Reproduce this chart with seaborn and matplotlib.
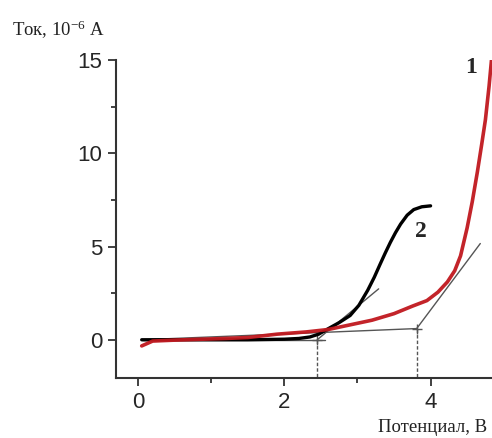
import matplotlib
matplotlib.use("Agg")
import matplotlib.pyplot as plt
import seaborn as sns
import pandas as pd
from matplotlib.ticker import MultipleLocator

# Curve 1 (red)
x1 = [0.05, 0.2, 0.5, 0.8, 1.2, 1.5, 1.9, 2.3, 2.6, 2.9, 3.2, 3.5, 3.75, 3.95,
      4.1, 4.23, 4.33, 4.41, 4.50, 4.57, 4.64, 4.70, 4.75, 4.80, 4.84]
y1 = [-0.33, -0.07, -0.02, 0.02, 0.07, 0.12, 0.3, 0.42, 0.55, 0.8, 1.05, 1.4, 1.8, 2.1,
      2.55, 3.1, 3.7, 4.5, 6.0, 7.4, 9.0, 10.5, 11.8, 13.6, 15.3]
# Curve 2 (black)
x2 = [0.05, 0.5, 1.0, 1.5, 2.0, 2.2, 2.35, 2.47, 2.59, 2.75, 2.9, 3.02, 3.14, 3.23,
      3.31, 3.38, 3.45, 3.52, 3.59, 3.68, 3.77, 3.88, 4.0]
y2 = [0.0, 0.0, 0.0, 0.0, 0.03, 0.07, 0.15, 0.3, 0.57, 0.92, 1.3, 1.85, 2.65, 3.35,
      4.05, 4.65, 5.22, 5.74, 6.2, 6.68, 6.98, 7.13, 7.18]

# Tangent constructions
tan2_base_x = [0.05, 2.56]
tan2_base_y = [0.0, 0.0]
tan2_steep_x = [2.45, 3.29]
tan2_steep_y = [0.0, 2.73]
tan1_base_x = [0.05, 3.81]
tan1_base_y = [0.0, 0.6]
tan1_steep_x = [3.81, 4.68]
tan1_steep_y = [0.6, 5.16]
onset_x = [2.45, 3.81]
onset_y = [0.0, 0.6]

xticks = [0, 2, 4]
yticks = [0, 5, 10, 15]

sns.set_style("ticks")
plt.rcParams['mathtext.fontset'] = 'custom'
plt.rcParams['mathtext.rm'] = 'Liberation Serif'
plt.rcParams['mathtext.it'] = 'Liberation Serif'

fig = plt.figure(figsize=(4.92, 4.38), dpi=100)
ax = fig.add_axes([0.236, 0.137, 0.764, 0.726])

gray = '#555555'
ax.plot(tan2_base_x, tan2_base_y, color=gray, lw=1.0)
ax.plot(tan2_steep_x, tan2_steep_y, color=gray, lw=1.0)
ax.plot(tan1_base_x, tan1_base_y, color=gray, lw=1.0)
ax.plot(tan1_steep_x, tan1_steep_y, color=gray, lw=1.0)

ylo = -2.05
for ox, oy in zip(onset_x, onset_y):
    ax.plot([ox, ox], [oy, ylo], color=gray, lw=1.0, ls=(0, (2.5, 1.5)))
    ax.plot([ox], [oy], marker='+', color=gray, ms=7, mew=1.0)

df1 = pd.DataFrame({'x': x1, 'y': y1})
df2 = pd.DataFrame({'x': x2, 'y': y2})
sns.lineplot(data=df2, x='x', y='y', ax=ax, color='black', lw=2.4, sort=False)
sns.lineplot(data=df1, x='x', y='y', ax=ax, color='#c0181e', lw=2.6, sort=False, alpha=0.95)

ax.set_xlim(-0.3, 4.84)
ax.set_ylim(ylo, 15)
ax.set_xticks(xticks)
ax.set_yticks(yticks)
ax.xaxis.set_minor_locator(MultipleLocator(1))
ax.yaxis.set_minor_locator(MultipleLocator(2.5))
ax.tick_params(axis='both', which='major', length=6, width=1.3, color='#333333',
               labelsize=16, pad=4)
ax.tick_params(axis='both', which='minor', length=3.5, width=1.3, color='#333333')
for lab in ax.get_xticklabels() + ax.get_yticklabels():
    lab.set_fontfamily('Liberation Sans')
ax.set_xlabel('')
ax.set_ylabel('')
for s in ['top', 'right']:
    ax.spines[s].set_visible(False)
for s in ['left', 'bottom']:
    ax.spines[s].set_linewidth(1.5)
    ax.spines[s].set_color('#333333')

ax.text(4.55, 14.6, '1', fontsize=17, fontweight='bold', family='Liberation Serif',
        ha='center', va='center')
ax.text(3.87, 5.8, '2', fontsize=17, fontweight='bold', family='Liberation Serif',
        ha='center', va='center')

fig.text(12/492, 1 - 30/438, 'Ток, 10$^{\\mathregular{-6}}$ A', fontsize=13.5,
         family='Liberation Serif', ha='left', va='center', color='#222222')
fig.text(487/492, 1 - 428/438, 'Потенциал, В', fontsize=13.5,
         family='Liberation Serif', ha='right', va='center', color='#222222')

fig.savefig('out.png', dpi=100)
